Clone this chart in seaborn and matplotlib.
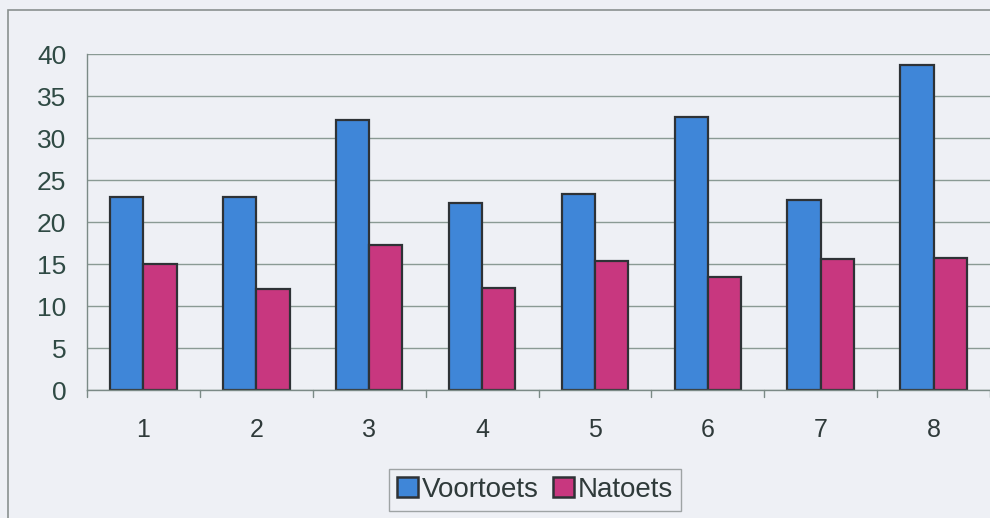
import matplotlib
matplotlib.use("Agg")
import matplotlib.pyplot as plt
import matplotlib.patches as mpatches
import pandas as pd
import seaborn as sns

toetsen = ["1", "2", "3", "4", "5", "6", "7", "8"]
voortoets = [23.0, 23.0, 32.1, 22.3, 23.3, 32.5, 22.6, 38.7]
natoets = [15.0, 12.0, 17.3, 12.1, 15.4, 13.5, 15.6, 15.7]
series = ["Voortoets", "Natoets"]
kleuren = ["#3f86d8", "#c8377f"]
y_ticks = [0, 5, 10, 15, 20, 25, 30, 35, 40]

df = pd.DataFrame({
    "toets": toetsen * 2,
    "score": voortoets + natoets,
    "reeks": [series[0]] * len(toetsen) + [series[1]] * len(toetsen),
})

sns.set_style("white")
plt.rcParams["font.family"] = ["Liberation Sans", "DejaVu Sans"]

bg = "#eef0f5"
fig = plt.figure(figsize=(9.9, 5.18), dpi=100, facecolor=bg)
ax = fig.add_axes([87 / 990, 1 - 390 / 518, 903 / 990, 336 / 518])
ax.set_facecolor(bg)

sns.barplot(data=df, x="toets", y="score", hue="reeks", order=toetsen,
            hue_order=series, palette=kleuren, width=0.59, dodge=True,
            edgecolor="#2e3236", linewidth=1.6, saturation=1, ax=ax,
            legend=False)

ax.set_ylim(0, 40)
ax.set_xlim(-0.5, len(toetsen) - 0.5)
ax.set_yticks(y_ticks)
ax.set_yticklabels([str(v) for v in y_ticks], fontsize=19, color="#2f4a44")
ax.set_xticks(range(len(toetsen)))
ax.set_xticklabels(toetsen, fontsize=18, color="#2f3a3a")
ax.tick_params(axis="x", length=0, pad=20)
ax.tick_params(axis="y", length=7, width=1, color="#7b8a86", pad=8)
ax.set_xlabel("")
ax.set_ylabel("")

# horizontal gridlines behind the bars
ax.set_axisbelow(True)
ax.yaxis.grid(True, color="#8a9a94", linewidth=1)

# category separators on the x axis
for b in range(len(toetsen) + 1):
    ax.plot([b - 0.5, b - 0.5], [0, -0.8], color="#7b8a86", lw=1,
            clip_on=False)

for s in ["top", "right"]:
    ax.spines[s].set_visible(False)
for s in ["left", "bottom"]:
    ax.spines[s].set_color("#7b8a86")
    ax.spines[s].set_linewidth(1)

# outer chart border
fig.patches.append(mpatches.Rectangle((8 / 990, -0.01), 1.0, 1 - 10 / 518 + 0.01,
                                      transform=fig.transFigure, fill=False,
                                      edgecolor="#8a9090", linewidth=1.2))

handles = [mpatches.Patch(facecolor=c, edgecolor="#2e3236", linewidth=1.8,
                          label=l) for c, l in zip(kleuren, series)]
leg = fig.legend(handles=handles, loc="center", ncol=2,
                 bbox_to_anchor=(535 / 990, 1 - 490 / 518), fontsize=20,
                 frameon=True, fancybox=False, edgecolor="#8a9090",
                 facecolor=bg, handlelength=0.75, handleheight=0.75,
                 handletextpad=0.15, columnspacing=0.5, borderpad=0.3)
leg.get_frame().set_linewidth(1)
for t in leg.get_texts():
    t.set_color("#2f3a3a")

fig.savefig("out.png", dpi=100, facecolor=bg)
